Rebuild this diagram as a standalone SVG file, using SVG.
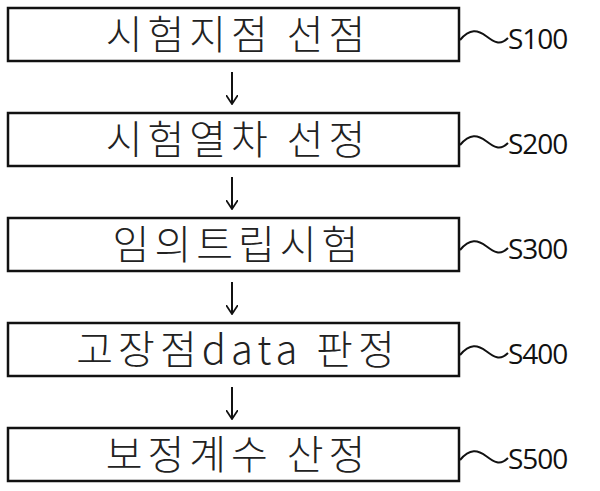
<svg xmlns="http://www.w3.org/2000/svg" width="600" height="491" viewBox="0 0 600 491">
<style>
.box{fill:#fff;stroke:#111;stroke-width:2.5}
.t{font-family:"Noto Sans CJK KR","Noto Sans",sans-serif;font-size:40px;font-weight:300;fill:#222;text-anchor:middle;letter-spacing:5px}
.s{font-family:"Open Sans","Liberation Sans",sans-serif;font-size:28px;fill:#111;letter-spacing:-1px}
.c{fill:none;stroke:#111;stroke-width:2}
</style>
<defs><marker id="a" markerWidth="10" markerHeight="12" refX="9" refY="6" orient="auto" markerUnits="userSpaceOnUse"><path d="M0,0 L9,6 L0,12" fill="none" stroke="#111" stroke-width="1.8"/></marker></defs>
<rect width="600" height="491" fill="#fff"/>
<g id="n1"><rect class="box" x="8" y="8" width="451" height="53"/><text class="t" x="238" y="49">시험지점 선점</text></g>
<g id="n2"><rect class="box" x="8" y="113" width="451" height="53"/><text class="t" x="238" y="154">시험열차 선정</text></g>
<g id="n3"><rect class="box" x="8" y="218" width="451" height="53"/><text class="t" x="238" y="259">임의트립시험</text></g>
<g id="n4"><rect class="box" x="8" y="323" width="451" height="53"/><text class="t" x="238" y="364">고장점data 판정</text></g>
<g id="n5"><rect class="box" x="8" y="428" width="451" height="53"/><text class="t" x="238" y="469">보정계수 산정</text></g>
<g id="connectors">
<path class="c" d="M232,72 V104" marker-end="url(#a)"/>
<path class="c" d="M232,177 V209" marker-end="url(#a)"/>
<path class="c" d="M232,282 V314" marker-end="url(#a)"/>
<path class="c" d="M232,387 V419" marker-end="url(#a)"/>
<path class="c" d="M460,40 C470,28 478,30 486,36 S500,46 508,38"/>
<path class="c" d="M460,145 C470,133 478,135 486,141 S500,151 508,143"/>
<path class="c" d="M460,250 C470,238 478,240 486,246 S500,256 508,248"/>
<path class="c" d="M460,355 C470,343 478,345 486,351 S500,361 508,353"/>
<path class="c" d="M460,460 C470,448 478,450 486,456 S500,466 508,458"/>
</g>
<text class="s" x="508" y="49">S100</text>
<text class="s" x="508" y="154">S200</text>
<text class="s" x="508" y="259">S300</text>
<text class="s" x="508" y="364">S400</text>
<text class="s" x="508" y="469">S500</text>
</svg>
